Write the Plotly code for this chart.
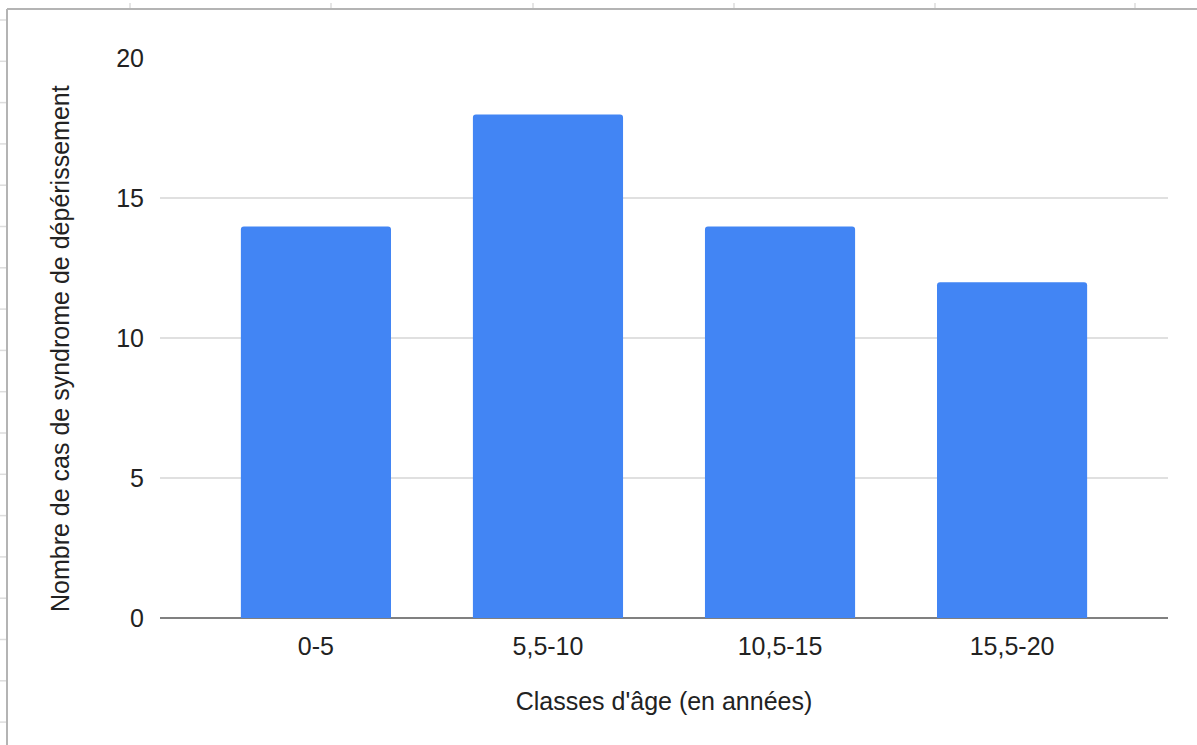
import plotly.graph_objects as go

categories = ["0-5", "5,5-10", "10,5-15", "15,5-20"]
values = [14, 18, 14, 12]
y_ticks = [0, 5, 10, 15, 20]
x_title = "Classes d'âge (en années)"
y_title = "Nombre de cas de syndrome de dépérissement"

W, H = 1197, 745
L, R, T, B = 160, 29, 58, 127
pw, ph = W - L - R, H - T - B

def px_x(x):
    return (x - L) / pw

def px_y(y):
    return (H - B - y) / ph

fig = go.Figure(go.Bar(
    x=categories, y=values,
    marker=dict(color="#4285F4", line=dict(width=0), cornerradius=3),
    hoverinfo="x+y",
))

font = dict(family="Liberation Sans, Arial, sans-serif", size=25, color="#222222")

shapes = []
border = "#b4b4b4"
# chart frame (left and top edges)
shapes.append(dict(type="line", xref="paper", yref="paper",
                   x0=px_x(7), x1=px_x(W + 5), y0=px_y(9), y1=px_y(9),
                   line=dict(color=border, width=2)))
shapes.append(dict(type="line", xref="paper", yref="paper",
                   x0=px_x(7), x1=px_x(7), y0=px_y(9), y1=px_y(H + 5),
                   line=dict(color=border, width=2)))
# spreadsheet grid ticks outside the frame
for gx in [130, 331, 533, 734, 935, 1135]:
    shapes.append(dict(type="line", xref="paper", yref="paper",
                       x0=px_x(gx), x1=px_x(gx), y0=px_y(3), y1=px_y(8),
                       line=dict(color="#dddddd", width=1.5)))
gy = 20
while gy < H:
    shapes.append(dict(type="line", xref="paper", yref="paper",
                       x0=px_x(0), x1=px_x(6), y0=px_y(gy), y1=px_y(gy),
                       line=dict(color="#dddddd", width=1.5)))
    gy += 41.3

fig.update_layout(
    width=W, height=H,
    margin=dict(l=L, r=R, t=T, b=B, autoexpand=False),
    paper_bgcolor="white", plot_bgcolor="white",
    font=font,
    bargap=0.353,
    showlegend=False,
    shapes=shapes,
    annotations=[dict(
        text=y_title, textangle=-90, showarrow=False,
        xref="paper", yref="paper", x=px_x(60), y=px_y(349),
        xanchor="center", yanchor="middle", font=font,
    )],
    xaxis=dict(
        type="category",
        range=[-0.672, 3.672],
        showgrid=False, showline=False, zeroline=False,
        ticks="", ticklabelstandoff=11,
        tickfont=font,
        title=dict(text=x_title, font=font, standoff=33),
        automargin=False,
    ),
    yaxis=dict(
        range=[0, 20.02],
        tickvals=y_ticks,
        showgrid=True, gridcolor="#e0e0e0", gridwidth=2,
        zeroline=True, zerolinecolor="#808080", zerolinewidth=2,
        showline=False, ticks="", ticklabelstandoff=15,
        tickfont=font,
        automargin=False,
    ),
)

fig.write_html("out.html", config={"displayModeBar": False},
               post_script="document.body.style.margin='0px';")
